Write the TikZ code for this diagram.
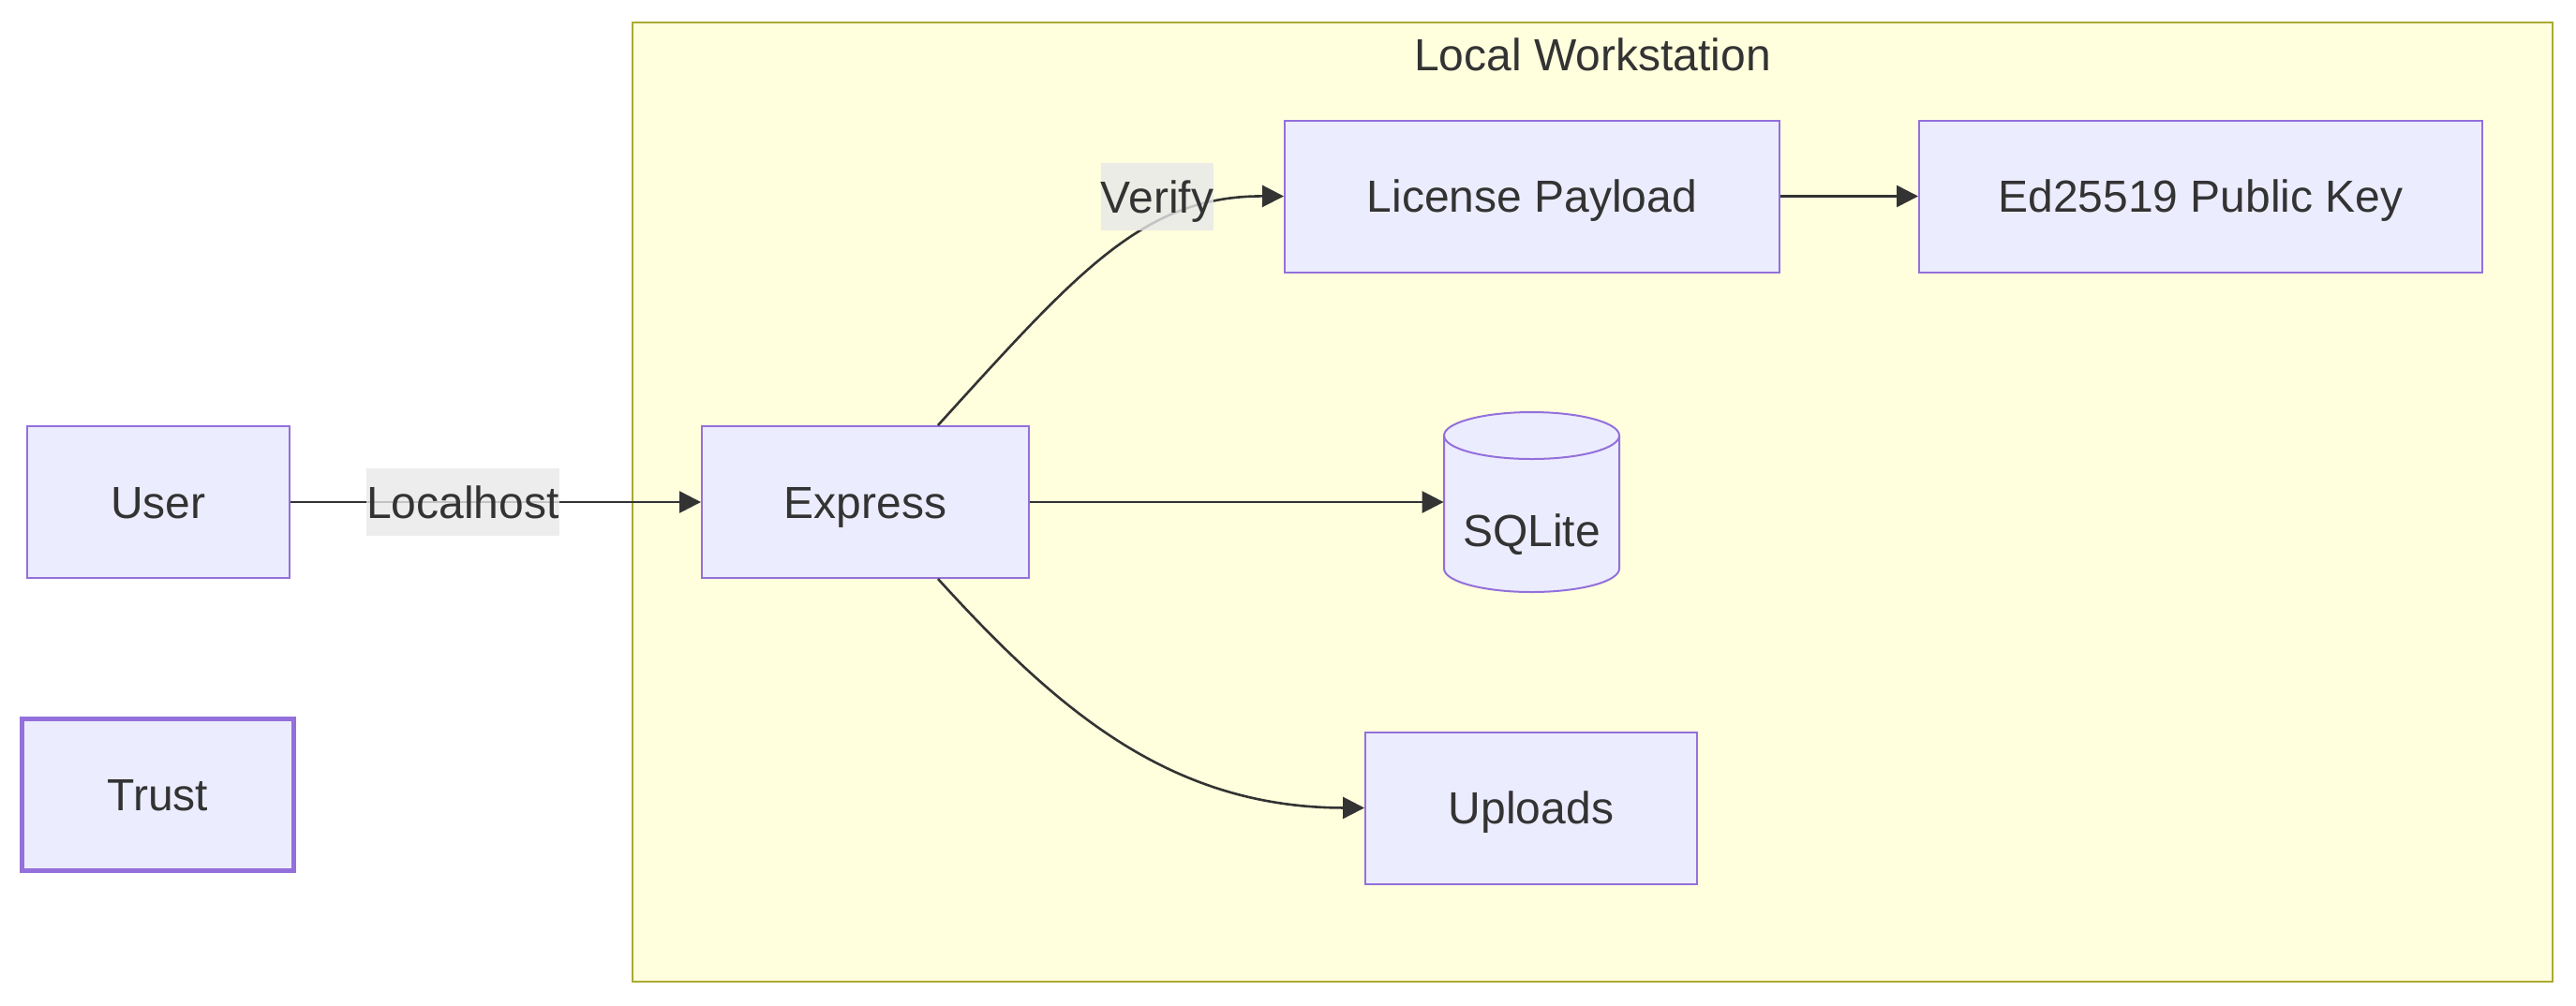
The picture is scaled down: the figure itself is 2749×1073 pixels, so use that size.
\documentclass[tikz,border=0pt]{standalone}
\usepackage{fontspec}
\setmainfont{Liberation Sans}
\usetikzlibrary{arrows.meta}
\definecolor{nodefill}{HTML}{ECECFF}
\definecolor{nodeline}{HTML}{9370DB}
\definecolor{groupfill}{HTML}{FFFFDE}
\definecolor{groupline}{HTML}{AAAA33}
\definecolor{inkgray}{HTML}{333333}
\definecolor{tagfill}{HTML}{E8E8E8}

\begin{document}
\begin{tikzpicture}[x=0.5pt, y=-0.5pt,
  txt/.style={text=inkgray, font=\fontsize{24}{29}\selectfont, text height=17.2pt, text depth=0pt},
  box/.style={txt, draw=nodeline, fill=nodefill, line width=1pt, rectangle, minimum height=81pt},
  group/.style={draw=groupline, fill=groupfill, line width=1pt, rectangle, minimum width=1024.5pt, minimum height=512pt},
  flow/.style={draw=inkgray, line width=1.3pt, -{Triangle[length=11.5pt,width=11.5pt]}},
  tag/.style={txt, fill=tagfill, fill opacity=0.8, text opacity=1, inner sep=0pt, minimum height=36pt}]
\useasboundingbox (0,0) rectangle (2749,1073);

% Workstation
\node[group] (local) at (1699.5,536) {};
\node[txt] (title) at (1699.5,58) {Local Workstation};

% Nodes
\node[box, minimum width=140pt] (user) at (169,536) {User};
\node[box, minimum width=145pt, line width=2.5pt] (trust) at (168.5,848.5) {Trust};
\node[box, minimum width=174.5pt] (express) at (923.5,536) {Express};
\node[box, minimum width=264pt] (license) at (1635,209.5) {License Payload};
\node[box, minimum width=300.5pt] (pubkey) at (2348.5,209.5) {Ed25519 Public Key};
\node[box, minimum width=177pt] (uploads) at (1634,862.5) {Uploads};

% Database
\draw[draw=nodeline, fill=nodefill, line width=1pt] (1541,465) -- (1541,607) arc (180:0:93.5 and 25) -- (1728,465) arc (0:-180:93.5 and 25) -- cycle;
\draw[draw=nodeline, line width=1pt] (1541,465) arc (180:0:93.5 and 25);
\node[txt, minimum width=93.5pt] (sqlite) at (1634.5,566) {SQLite};

% Edges
\draw[flow] (user) -- node[tag, pos=0.42] (localhost) {Localhost} (express);
\draw[flow] ([xshift=38.75pt]express.north) .. controls (1150,290) and (1220,209) .. (license.west);
\node[tag] (verify) at (1235,210) {Verify};
\draw[flow] (license) -- (pubkey);
\draw[flow] (express.east) -- ([yshift=15pt]sqlite.west);
\draw[flow] ([xshift=38.75pt]express.south) .. controls (1130,760) and (1250,862) .. (uploads.west);

\end{tikzpicture}
\end{document}
